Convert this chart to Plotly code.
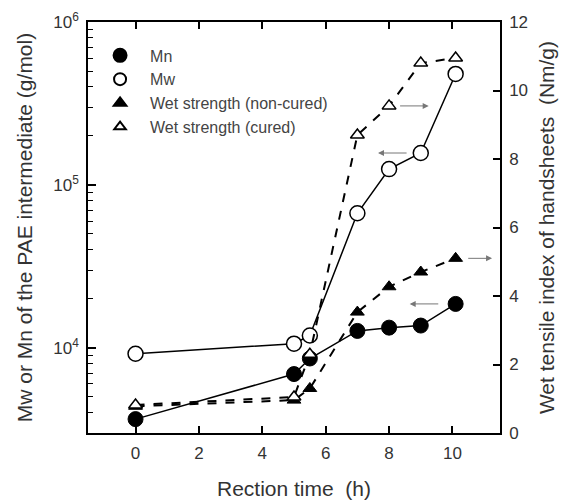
import math
import plotly.graph_objects as go

# ---- data ----
t_mn = [0, 5, 5.5, 7, 8, 9, 10.1]
mn = [3650, 6900, 8600, 12700, 13300, 13700, 18600]
t_mw = [0, 5, 5.5, 7, 8, 9, 10.1]
mw = [9200, 10600, 11900, 67000, 125000, 157000, 480000]
t_ws = [0, 5, 5.5, 7, 8, 9, 10.1]
ws_noncured = [0.78, 0.96, 1.3, 3.53, 4.27, 4.7, 5.1]
ws_cured = [0.82, 1.05, 2.3, 8.7, 9.55, 10.8, 10.95]

x_ticks = [0, 2, 4, 6, 8, 10]
y_major = [1e4, 1e5, 1e6]
y_major_text = ["10<sup>4</sup>", "10<sup>5</sup>", "10<sup>6</sup>"]
y_minor = [4000, 5000, 6000, 7000, 8000, 9000,
           2e4, 3e4, 4e4, 5e4, 6e4, 7e4, 8e4, 9e4,
           2e5, 3e5, 4e5, 5e5, 6e5, 7e5, 8e5, 9e5]
y2_ticks = [0, 2, 4, 6, 8, 10, 12]

FONT = "Liberation Sans, Arial, sans-serif"
TXT = "#333333"

fig = go.Figure()

# data traces
fig.add_trace(go.Scatter(x=t_mn, y=mn, mode="lines+markers", showlegend=False,
                         line=dict(color="black", width=1.5),
                         marker=dict(symbol="circle", size=15, color="black",
                                     line=dict(color="black", width=1))))
fig.add_trace(go.Scatter(x=t_mw, y=mw, mode="lines+markers", showlegend=False,
                         line=dict(color="black", width=1.5),
                         marker=dict(symbol="circle", size=15, color="white",
                                     line=dict(color="black", width=1.5))))
fig.add_trace(go.Scatter(x=t_ws, y=ws_noncured, yaxis="y2", mode="lines+markers", showlegend=False,
                         line=dict(color="black", width=2, dash="dash"),
                         marker=dict(symbol="triangle-up", size=12, color="black",
                                     line=dict(color="black", width=1))))
fig.add_trace(go.Scatter(x=t_ws, y=ws_cured, yaxis="y2", mode="lines+markers", showlegend=False,
                         line=dict(color="black", width=2, dash="dash"),
                         marker=dict(symbol="triangle-up", size=12, color="white",
                                     line=dict(color="black", width=1.5))))

# legend-only traces
legend_items = [
    ("Mn", "circle", "black", 13),
    ("Mw", "circle", "white", 12),
    ("Wet strength (non-cured)", "triangle-up", "black", 11),
    ("Wet strength (cured)", "triangle-up", "white", 10),
]
for name, sym, col, sz in legend_items:
    fig.add_trace(go.Scatter(x=[None], y=[None], mode="markers", name=name,
                             marker=dict(symbol=sym, size=sz, color=col,
                                         line=dict(color="black", width=2))))

# arrows pointing from a series to its axis
arrow_col = "#777777"
arrows = [
    # (x_from, x_to, value, axis)
    (8.3, 9.25, ws_cured[4], "y2"),
    (8.6, 7.65, mw[5], "y"),
    (10.45, 11.25, ws_noncured[6], "y2"),
    (9.6, 8.65, mn[6], "y"),
]
for x0, x1, v, ax in arrows:
    yy = math.log10(v) if ax == "y" else v
    fig.add_annotation(x=x1, y=yy, ax=x0, ay=yy, xref="x", yref=ax, axref="x", ayref=ax,
                       text="", showarrow=True, arrowhead=2, arrowsize=1.2,
                       arrowwidth=1, arrowcolor=arrow_col)

fig.update_layout(
    width=573, height=504,
    margin=dict(l=88, r=73, t=22, b=71),
    paper_bgcolor="white", plot_bgcolor="white",
    font=dict(family=FONT, color=TXT, size=17),
    legend=dict(x=0.005, y=0.96, xanchor="left", yanchor="top",
                bgcolor="rgba(0,0,0,0)", font=dict(size=16, color="#444444"),
                tracegroupgap=0, itemsizing="trace", itemwidth=50),
    xaxis=dict(range=[-1.5, 11.5], tickvals=x_ticks, ticks="inside", ticklen=7,
               tickwidth=1.5, tickcolor="black", showline=True, linecolor="black",
               linewidth=1.5, mirror="ticks", showgrid=False, zeroline=False,
               tickfont=dict(size=17), ticklabelstandoff=4, automargin=False,
               title=dict(text="Rection time\u00a0 (h)", font=dict(size=21), standoff=19)),
    yaxis=dict(type="log", range=[math.log10(3000), 6], tickvals=y_major,
               ticktext=y_major_text, ticks="inside", ticklen=8, tickwidth=1.5,
               tickcolor="black", showline=True, linecolor="black", linewidth=1.5,
               showgrid=False, zeroline=False, tickfont=dict(size=17),
               ticklabelstandoff=4, automargin=False,
               minor=dict(tickvals=y_minor, ticks="inside", ticklen=5, tickwidth=1,
                          tickcolor="black"),
               title=dict(text="Mw or Mn of the PAE intermediate (g/mol)",
                          font=dict(size=21), standoff=15)),
    yaxis2=dict(overlaying="y", side="right", range=[0, 12], tickvals=y2_ticks,
                ticks="inside", ticklen=7, tickwidth=1.5, tickcolor="black",
                showline=True, linecolor="black", linewidth=1.5, showgrid=False,
                zeroline=False, tickfont=dict(size=17), ticklabelstandoff=4,
                automargin=False,
                title=dict(text="Wet tensile index of handsheets\u00a0 (Nm/g)",
                           font=dict(size=21), standoff=12)),
)

fig.write_html("out.html")
